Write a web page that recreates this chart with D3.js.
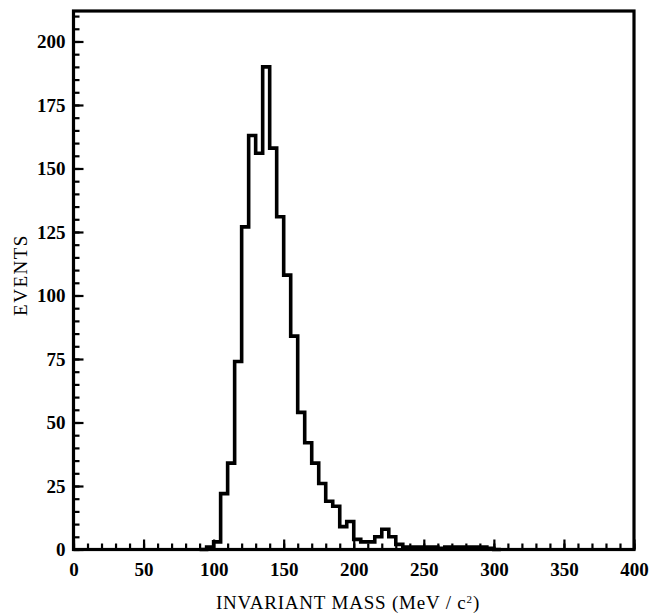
<!DOCTYPE html>
<html>
<head>
<meta charset="utf-8">
<script src="https://cdn.jsdelivr.net/npm/d3@7"></script>
<style>
  html, body { margin: 0; padding: 0; background: #fff; }
  svg { display: block; }
  .tick text { font-family: "Liberation Serif", "DejaVu Serif", serif; font-weight: bold; font-size: 19px; fill: #000; }
  .title { font-family: "Liberation Serif", "DejaVu Serif", serif; font-size: 19px; fill: #000; }
</style>
</head>
<body>
<svg id="chart" width="658" height="615"></svg>
<script>
// Invariant-mass histogram, 5 MeV bins (lower bin edges in MeV/c^2)
const binLow = [90, 95, 100, 105, 110, 115, 120, 125, 130, 135, 140, 145, 150, 155,
                160, 165, 170, 175, 180, 185, 190, 195, 200, 205, 210, 215, 220, 225,
                230, 235, 240, 245, 250, 255, 260, 265, 270, 275, 280, 285, 290, 295, 300];
const binWidth = 5;
const events = [0, 1, 3, 22, 34, 74, 127, 163, 156, 190, 158, 131, 108, 84,
                54, 42, 34, 26, 19, 17, 9, 11, 4, 3, 3, 5, 8, 5,
                2, 1, 1, 1, 1, 1, 0.5, 1, 1, 1, 1, 1, 1, 0.5, 0];

const xMajorTicks = [0, 50, 100, 150, 200, 250, 300, 350, 400];
const yMajorTicks = [0, 25, 50, 75, 100, 125, 150, 175, 200];

const svg = d3.select("#chart");
const plotLeft = 73.5, plotRight = 634, plotTop = 11, plotBottom = 549.5;

const x = d3.scaleLinear().domain([0, 400]).range([plotLeft, plotRight]);
const y = d3.scaleLinear().domain([0, 212]).range([plotBottom, plotTop]);

// minor ticks (inward)
svg.append("g")
  .attr("transform", `translate(0,${plotBottom})`)
  .call(d3.axisBottom(x).tickValues(d3.range(0, 401, 10)).tickSize(-6).tickFormat(""))
  .call(g => g.select(".domain").remove())
  .call(g => g.selectAll("line").attr("stroke", "#000").attr("stroke-width", 2.2));
svg.append("g")
  .attr("transform", `translate(${plotLeft},0)`)
  .call(d3.axisLeft(y).tickValues(d3.range(0, 211, 5)).tickSize(-6).tickFormat(""))
  .call(g => g.select(".domain").remove())
  .call(g => g.selectAll("line").attr("stroke", "#000").attr("stroke-width", 2.2));

// major ticks with labels
svg.append("g")
  .attr("transform", `translate(0,${plotBottom})`)
  .call(d3.axisBottom(x).tickValues(xMajorTicks).tickSize(-10).tickPadding(13).tickFormat(d3.format("d")))
  .call(g => g.select(".domain").remove())
  .call(g => g.selectAll("line").attr("stroke", "#000").attr("stroke-width", 2.2));
svg.append("g")
  .attr("transform", `translate(${plotLeft},0)`)
  .call(d3.axisLeft(y).tickValues(yMajorTicks).tickSize(-10).tickPadding(8).tickFormat(d3.format("d")))
  .call(g => g.select(".domain").remove())
  .call(g => g.selectAll("line").attr("stroke", "#000").attr("stroke-width", 2.2));

// frame
svg.append("rect")
  .attr("x", plotLeft).attr("y", plotTop)
  .attr("width", plotRight - plotLeft).attr("height", plotBottom - plotTop)
  .attr("fill", "none").attr("stroke", "#000").attr("stroke-width", 3.2);

// histogram outline as a step path
const pts = [];
binLow.forEach((b, i) => {
  pts.push([b, events[i]]);
  pts.push([b + binWidth, events[i]]);
});
const line = d3.line().x(d => x(d[0])).y(d => y(d[1]));
svg.append("path")
  .datum(pts)
  .attr("d", line)
  .attr("fill", "none")
  .attr("stroke", "#000")
  .attr("stroke-width", 3.6)
  .attr("stroke-linejoin", "miter");

// axis titles
const xt = svg.append("text")
  .attr("class", "title")
  .attr("fill", "#000")
  .attr("x", 348).attr("y", 609)
  .attr("text-anchor", "middle")
  .attr("letter-spacing", "0.8");
xt.append("tspan").text("INVARIANT MASS (MeV / c");
xt.append("tspan").attr("baseline-shift", "super").attr("font-size", "11px").text("2");
xt.append("tspan").text(")");

svg.append("text")
  .attr("class", "title")
  .attr("fill", "#000")
  .attr("transform", "translate(27,275) rotate(-90)")
  .attr("text-anchor", "middle")
  .attr("letter-spacing", "1.5")
  .text("EVENTS");
</script>
</body>
</html>
